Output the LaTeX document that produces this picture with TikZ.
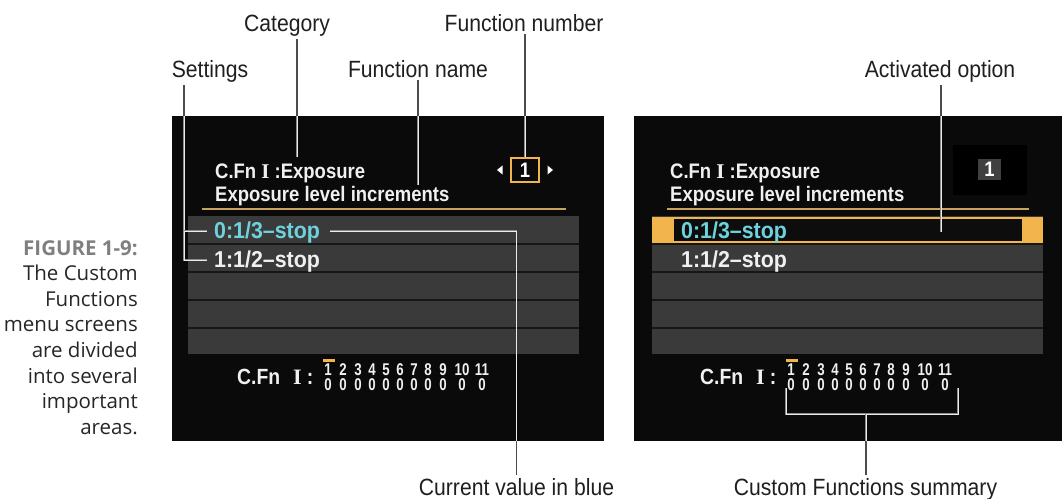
\documentclass[tikz,border=0pt]{standalone}
\usepackage{fontspec}
\setmainfont{Liberation Sans}
\newfontfamily\lblfont[FakeStretch=0.9]{Liberation Sans}
\newfontfamily\scrfont[FakeStretch=0.88]{Liberation Sans}
\newfontfamily\optfont[FakeStretch=0.93]{Liberation Sans}
\newfontfamily\digfont[FakeStretch=0.78]{Liberation Sans}
\newfontfamily\scrserif{Liberation Serif}
\newfontfamily\capfont{Open Sans}
\definecolor{gold}{HTML}{F2B54E}
\definecolor{goldline}{HTML}{C9A262}
\definecolor{cyantxt}{HTML}{6ED2DE}
\definecolor{panel}{HTML}{3A3A3A}
\definecolor{scrbg}{HTML}{0A0A0A}
\definecolor{sep}{HTML}{161616}
\definecolor{capgray}{HTML}{7F7F7F}
\newcommand\drawcallouts[1]{%
  \draw[#1] (cat.south -| catT) -- (catT);
  \draw[#1] (fnum.south -| fbox.north) -- (fbox.north);
  \draw[#1] (fname.south -| fnT) -- (fnT);
  \draw[#1] (set.south -| setA) |- (setC);
  \draw[#1] (setA) -- (setB);
  \draw[#1] (cvA) -| (cur.north);
  \draw[#1] (act.south -| actT) -- (actT);
  \draw[#1] (brL) |- (brR |- brM) -- (brR);
  \draw[#1] (brM) -- (brM |- cfs.north);
}
\begin{document}
\begin{tikzpicture}[x=1pt,y=-1pt,
  lbl/.style={font=\lblfont\fontsize{23.5}{27}\selectfont, text=black!88, anchor=base, inner sep=0pt, outer sep=3pt},
  scrtxt/.style={font=\scrfont\bfseries\fontsize{21}{24}\selectfont, text=white!94!black, anchor=base west, inner sep=0pt},
  opttxt/.style={font=\optfont\bfseries\fontsize{23}{26}\selectfont, text=white!94!black, anchor=base west, inner sep=0pt},
  sumtxt/.style={font=\scrfont\bfseries\fontsize{22}{24}\selectfont, text=white!94!black, anchor=base west, inner sep=0pt},
  dig/.style={font=\digfont\bfseries\fontsize{17}{18}\selectfont, text=white!94!black, anchor=base, inner sep=0pt},
  outline/.style={draw=black!70, line width=1.1pt},
  inline/.style={draw=black!45, line width=0.5pt, double=white!92!black, double distance=0.9pt},
  rowsep/.style={draw=sep, line width=1.6pt}
]
\useasboundingbox (0,0) rectangle (1062,498);

% ---------- caption ----------
\node[anchor=north east, align=right, inner sep=0pt, text=black!85,
      font=\capfont\fontsize{20.5}{25.6}\selectfont] (caption) at (138,240)
  {{\bfseries\color{capgray}FIGURE 1-9:}\\The Custom\\Functions\\menu screens\\are divided\\into several\\important\\areas.};

% ---------- left screen ----------
\fill[scrbg] (172,116) rectangle (604,441);
\fill[panel] (188,216) rectangle (579,354);
\foreach \yy in {244,272,300,328} \draw[rowsep] (188,\yy) -- (579,\yy);
\draw[goldline, line width=1.5pt] (202,209) -- (566,209);
\node[scrtxt] (ltitle) at (215,178) {C.Fn {\scrserif\bfseries I} :Exposure};
\node[scrtxt] (lname) at (215,201) {Exposure level increments};
\node[opttxt, text=cyantxt] (lopt0) at (214,238) {0:1/3–stop};
\node[opttxt] (lopt1) at (214,267) {1:1/2–stop};
\node[draw=gold, line width=2pt, minimum width=28pt, minimum height=24pt, inner sep=0pt,
      font=\scrfont\bfseries\fontsize{21}{24}\selectfont, text=white] (fbox) at (525,170) {1};
\fill[white] (497,170) -- (502.5,165.5) -- (502.5,174.5) -- cycle;
\fill[white] (553,170) -- (547.5,165.5) -- (547.5,174.5) -- cycle;
\node[sumtxt] (lsum) at (237,384) {C.Fn\hspace{13pt}{\scrserif\bfseries I}\hspace{5pt}:};
\fill[gold] (323,358.5) rectangle (335,361.5);
\foreach \xx/\n in {328/1,343/2,358/3,372/4,386/5,400/6,414/7,428/8,443/9,462/10,482/11}{
  \node[dig] (ld\n) at (\xx,375) {\n};
  \node[dig] (lz\n) at (\xx,390) {0};
}

% ---------- right screen ----------
\fill[scrbg] (634,116) rectangle (1062,441);
\fill[black] (953,145) rectangle (1027,195);
\node[fill=black!75, minimum width=23pt, minimum height=21pt, inner sep=0pt,
      font=\scrfont\bfseries\fontsize{21}{24}\selectfont, text=white] (rnum) at (989.5,169.5) {1};
\fill[panel] (652,216) rectangle (1043,354);
\foreach \yy in {244,272,300,328} \draw[rowsep] (652,\yy) -- (1043,\yy);
\fill[gold] (652,216.5) rectangle (1043,243);
\fill[black!95] (674,219) rectangle (1022,241);
\draw[goldline, line width=1.5pt] (667,209) -- (1029,209);
\node[scrtxt] (rtitle) at (670,178) {C.Fn {\scrserif\bfseries I} :Exposure};
\node[scrtxt] (rname) at (670,201) {Exposure level increments};
\node[opttxt, text=cyantxt] (ropt0) at (681,238) {0:1/3–stop};
\node[opttxt] (ropt1) at (681,267) {1:1/2–stop};
\node[sumtxt] (rsum) at (700,384) {C.Fn\hspace{13pt}{\scrserif\bfseries I}\hspace{5pt}:};
\fill[gold] (786,358.5) rectangle (798,361.5);
\foreach \xx/\n in {328/1,343/2,358/3,372/4,386/5,400/6,414/7,428/8,443/9,462/10,482/11}{
  \node[dig] (rd\n) at (\xx+463,375) {\n};
  \node[dig] (rz\n) at (\xx+463,390) {0};
}

% ---------- labels ----------
\node[lbl] (cat) at (287,31) {Category};
\node[lbl] (fnum) at (524,31) {Function number};
\node[lbl] (set) at (210,77) {Settings};
\node[lbl] (fname) at (418,77) {Function name};
\node[lbl] (act) at (940,77) {Activated option};
\node[lbl] (cur) at (516.5,495) {Current value in blue};
\node[lbl] (cfs) at (865.5,495) {Custom Functions summary};

% ---------- callout points ----------
\coordinate (catT) at (297,157);
\coordinate (fnT) at (418,185);
\coordinate (setA) at (184,231);
\coordinate (setB) at (207,231);
\coordinate (setC) at (207,260);
\coordinate (cvA) at (330,231);
\coordinate (actT) at (941,232);
\coordinate (brL) at (786,388);
\coordinate (brR) at (958,388);
\coordinate (brM) at (866,414);

\drawcallouts{outline}
\begin{scope}
  \clip (172,116) rectangle (604,441) (634,116) rectangle (1062,441);
  \drawcallouts{inline}
\end{scope}
\end{tikzpicture}
\end{document}
